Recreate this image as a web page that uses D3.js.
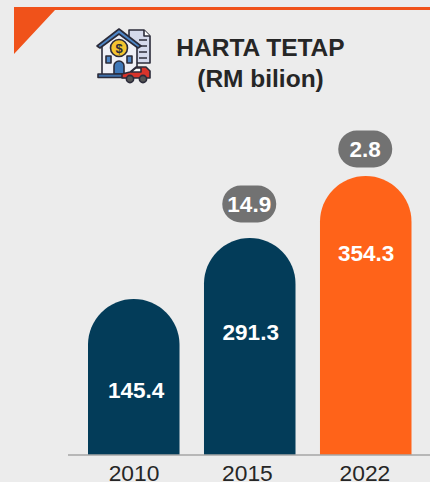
<!DOCTYPE html>
<html><head><meta charset="utf-8">
<script src="https://cdn.jsdelivr.net/npm/d3@7/dist/d3.min.js"></script>
<style>html,body{margin:0;padding:0;background:#ececec}svg{display:block}text{font-family:"Liberation Sans",Arial,sans-serif}</style>
</head><body><svg id="c" width="430" height="482"></svg>
<script>
const years=["2010","2015","2022"];
const values=[145.4,291.3,354.3];
const changes=[null,14.9,2.8];
const titleLines=["HARTA TETAP","(RM bilion)"];
const colors=["#033c59","#033c59","#ff6319"];

const svg=d3.select("#c");
const base=455;
const x=d3.scaleBand().domain(years).range([88,411.5]).paddingInner(0.211).paddingOuter(0);
// The reference's bars are not proportional to their labels, so the scale is piecewise
const y=d3.scaleLinear().domain([0,145.4,291.3,354.3]).range([base,299,238,176]);

svg.append("rect").attr("width",430).attr("height",482).attr("fill","#ececec");
svg.append("path").attr("d","M14 7H430V10H55L14 54Z").attr("fill","#f0521a");

const bw=x.bandwidth(),r=bw/2;
svg.selectAll("path.bar").data(values).join("path").attr("class","bar")
  .attr("fill",(d,i)=>colors[i])
  .attr("d",(d,i)=>{const l=x(years[i]),t=y(d);return `M${l} ${base}V${t+r}A${r} ${r} 0 0 1 ${l+bw} ${t+r}V${base}Z`;});

svg.append("line").attr("x1",68).attr("x2",430).attr("y1",base).attr("y2",base).attr("stroke","#a6a6a6").attr("stroke-width",1.4);

svg.selectAll("text.val").data(values).join("text").attr("class","val")
  .attr("x",(d,i)=>x(years[i])+r+[2.3,1,0.5][i]).attr("y",(d,i)=>y(d)+[98.5,101.5,85][i])
  .attr("text-anchor","middle").attr("fill","#fff").attr("font-weight","bold").attr("font-size",22.5)
  .text(d=>d.toFixed(1));

const pillGap={"2015":34,"2022":27};
const pills=svg.selectAll("g.pill").data(years.map((yr,i)=>({yr,c:changes[i],v:values[i]})).filter(d=>d.c!=null)).join("g").attr("class","pill")
  .attr("transform",d=>`translate(${x(d.yr)+r-0.5},${y(d.v)-pillGap[d.yr]})`);
pills.append("rect").attr("x",-27).attr("y",-18.5).attr("width",54).attr("height",37).attr("rx",18.5).attr("fill","#727272");
pills.append("text").attr("text-anchor","middle").attr("y",8).attr("fill","#fff").attr("font-weight","bold").attr("font-size",22.5).text(d=>d.c.toFixed(1));

svg.selectAll("text.yr").data(years).join("text").attr("class","yr")
  .attr("x",(d,i)=>x(d)+r+[0.3,-2.3,-0.8][i]).attr("y",481).attr("text-anchor","middle").attr("fill","#262626").attr("font-size",22.8).text(d=>d);

svg.selectAll("text.title").data(titleLines).join("text").attr("class","title")
  .attr("x",260.5).attr("y",(d,i)=>56+i*30.5).attr("text-anchor","middle").attr("fill","#262626").attr("font-weight","bold").attr("font-size",24.5).text(d=>d);

// icon
const ic=svg.append("g").attr("stroke","#2b2b3a").attr("stroke-width",1.6).attr("stroke-linejoin","round");
ic.append("path").attr("d","M129 30H144L150 36V63H129Z").attr("fill","#d5d9ec");
ic.append("path").attr("d","M144 30V36H150").attr("fill","#fff");
ic.selectAll("line.l").data([40,46,52,58]).join("line").attr("class","l").attr("x1",139).attr("x2",147).attr("y1",d=>d).attr("y2",d=>d).attr("stroke-width",1.5);
ic.append("path").attr("d","M102 44L119 31L137 44V76H102Z").attr("fill","#f0f0f6");
ic.append("path").attr("d","M97 46L119 29L141 46L138 48L119 34L100 48Z").attr("fill","#4f86c6");
ic.append("circle").attr("cx",119).attr("cy",48).attr("r",8.5).attr("fill","#f4c430");
ic.append("text").attr("x",119).attr("y",53).attr("text-anchor","middle").attr("font-size",13).attr("font-weight","bold").attr("stroke","none").attr("fill","#2b2b3a").text("$");
ic.append("rect").attr("x",106).attr("y",56).attr("width",5).attr("height",7).attr("fill","#4f86c6");
ic.append("rect").attr("x",127).attr("y",56).attr("width",5).attr("height",7).attr("fill","#4f86c6");
ic.append("path").attr("d","M114 74V66A5 5 0 0 1 124 66V74Z").attr("fill","#3f78b8");
ic.append("rect").attr("x",98).attr("y",74).attr("width",30).attr("height",3.5).attr("fill","#3f6fa8");
ic.append("path").attr("d","M122 78V74L130 72L136 67H146L150 71V78Z").attr("fill","#d8342b");
ic.append("path").attr("d","M131 72L136 68H141V72Z").attr("fill","#fff");
ic.selectAll("circle.w").data([130,143]).join("circle").attr("class","w").attr("cx",d=>d).attr("cy",79).attr("r",3.6).attr("fill","#555");
</script></body></html>
